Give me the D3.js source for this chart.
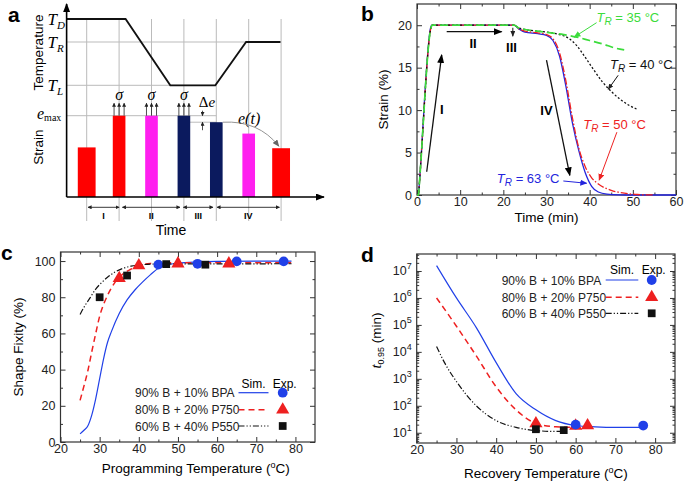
<!DOCTYPE html>
<html>
<head>
<meta charset="utf-8">
<script src="https://cdn.jsdelivr.net/npm/d3@7"></script>
<style>
body{margin:0;background:#fff}
svg{font-family:"Liberation Sans",Arial,Helvetica,sans-serif}
</style>
</head>
<body>
<svg id="fig" width="685" height="485"></svg>
<script>
var FONT = '"Liberation Sans",Arial,Helvetica,sans-serif'
var SERIF = '"Liberation Serif","Times New Roman",serif'

// ---------- panel a (schematic) ----------
var a_tempT = [0.38,2.2,3.58,4.97,5.92,6.98]
var a_tempV = [1,1,0,0,0.653,0.653]
var a_levels = ["D","R","L"]
var a_levelV = [1,0.653,0]
var a_barT = [1,2,3,4,5,6,7]
var a_barV = [0.61,1,1,1,0.92,0.78,0.6]
var a_barW = [0.55,0.39,0.39,0.39,0.39,0.39,0.55]
var a_barC = ["#ff0000","#ff0000","#ff1fef","#0b1a5e","#0b1a5e","#ff1fef","#ff0000"]
var a_phase = ["I","II","III","IV"]
var a_phaseFrom = [1.04,2.1,3.98,5.02]
var a_phaseTo = [2.0,3.88,4.9,6.95]

// ---------- panel b ----------
var b_names = ["63","50","40","35"]
var b_colors = ["#2424dd","#ee2222","#111111","#3cdc3c"]
var b_dash = [null,"7,2,1.5,2","2,2","8,4"]
var b_time = [
  [0,0.35,0.5,3.2,3.4,10,20,22.5,23.5,25,28,30,31.5,33,34.5,36,37.5,39,40.5,42,44,47,50,60],
  [0,0.35,0.5,3.3,3.5,10,20,22.5,23.5,25,28,30,31.5,33,34.5,36,37.5,39,40.5,42,45,48,51,55],
  [0,0.35,0.5,3.3,3.5,10,20,22.5,23.5,25,28,30,33,35,37,39,41,43,45,47,49,51],
  [0,0.35,0.5,3.3,3.5,10,20,22.5,23.5,25,28,31,34,37,40,43,46,48]
]
var b_strain = [
  [0,0,1,19.8,20,20,20,20,19.6,19.2,19.0,18.8,18.2,16.4,12.8,8.5,5.2,2.6,1.0,0.35,0.1,0.02,0,0],
  [0,0,1,19.8,20,20,20,20,19.6,19.3,19.1,18.9,18.4,16.8,13.4,9.1,5.5,3.3,2.0,1.3,0.55,0.22,0.06,0],
  [0,0,1,19.8,20,20,20,20,19.7,19.5,19.3,19.2,18.9,18.5,17.6,16.2,14.7,13.3,12.2,11.3,10.6,10.1],
  [0,0,1,19.8,20,20,20,20,19.7,19.5,19.3,19.1,18.9,18.6,18.2,17.8,17.3,17.1]
]
var b_xticks = [0,10,20,30,40,50,60]
var b_yticks = [0,5,10,15,20]

// ---------- panel c ----------
var c_names = ["90% B + 10% BPA","80% B + 20% P750","60% B + 40% P550"]
var c_simT = [
  [25,26,27,28,29,30,31,32,33,35,37,39,41,43,45,47,50,55,60,79],
  [25,26,27,28,29,30,31,32,34,36,38,40,43,46,79],
  [25,26,27.5,29,30,32,34,36,38,41,45,79]
]
var c_simV = [
  [4.5,6.5,9,15,24,35,46,55,61,71,78.5,84,88.5,92.5,96,97.8,98.8,99.5,99.8,100],
  [23,31,39.5,50,60,69.5,76,81,88.5,93,95.5,97.5,98.7,99,99],
  [70.5,74.5,79.5,84.5,87,91,94,96,97.2,98,98.4,98.5]
]
var c_expT = [[45,55,65,77],[35,40,50,63],[30,37,47,57]]
var c_expV = [[98,98.5,99.8,99.8],[90.5,97.5,98.6,98.6],[80,92,98.3,98]]
var c_xticks = [20,30,40,50,60,70,80]
var c_yticks = [0,20,40,60,80,100]

// ---------- panel d ----------
var d_simT = [
  [25,30,35,40,45,50,55,60,65,70,77],
  [25,30,35,40,45,50,55,60,63],
  [25,27,30,35,40,45,50,55,57]
]
var d_simLog = [
  [7.2,6.0,4.9,3.6,2.45,1.85,1.45,1.27,1.22,1.2,1.2],
  [6.0,4.95,3.85,2.7,1.85,1.35,1.22,1.2,1.2],
  [4.2,3.6,2.9,2.0,1.45,1.2,1.08,1.05,1.05]
]
var d_expT = [[60,77],[50,60,63],[50,57]]
var d_expV = [[20,18.5],[22,18,18.5],[13.5,12.5]]
var d_xticks = [20,30,40,50,60,70,80]
var d_yticks = [1,2,3,4,5,6,7]

var s_colors = ["#2040e8","#ee2020","#111111"]
var s_dash = [null,"6,4","6,2,1.2,2,1.2,2"]
var s_marker = [d3.symbolCircle,d3.symbolTriangle,d3.symbolSquare]
var s_msize = [75,75,60]

var svg = d3.select("#fig")
svg.append("rect").attr("width",685).attr("height",485).attr("fill","#fff")
var defs = svg.append("defs")

function mk(id,color,w,h){
  defs.append("marker").attr("id",id)
    .attr("viewBox","0 0 10 10").attr("refX",9).attr("refY",5)
    .attr("markerWidth",w).attr("markerHeight",h)
    .attr("markerUnits","userSpaceOnUse")
    .attr("preserveAspectRatio","none")
    .attr("orient","auto-start-reverse")
    .append("path").attr("d","M0,0L10,5L0,10z").attr("fill",color)
}
mk("ak","#000",9,7)
mk("aks","#222",4,4)
mk("akm","#222",6,5)
mk("ag","#666",7,6)
mk("agr","#3cdc3c",7,6)
mk("ar","#ee2222",7,6)
mk("ab","#2424dd",7,6)

function label(txt,x,y){
  svg.append("text").attr("x",x).attr("y",y).text(txt)
    .style("font-size","21px").style("font-weight","bold")
}

// generic framed axes
function frameAxes(g,x,y,w,h,o){
  var bx = g.append("g").attr("transform","translate(0,"+h+")")
    .call(d3.axisBottom(x).tickValues(o.xt).tickFormat(d3.format("d")).tickSizeInner(-5).tickSizeOuter(0).tickPadding(2))
  bx.selectAll("text").style("font-size","12.5px").style("font-family",FONT).attr("fill","#222")
  g.append("g").attr("transform","translate(0,"+h+")")
    .call(d3.axisBottom(x).tickValues(o.xm).tickFormat("").tickSize(-2.5))
  g.append("g").call(d3.axisTop(x).tickValues(o.xt).tickFormat("").tickSize(-5))
  g.append("g").call(d3.axisTop(x).tickValues(o.xm).tickFormat("").tickSize(-2.5))
  var ly = g.append("g")
    .call(d3.axisLeft(y).tickValues(o.yt).tickFormat(o.yf).tickSizeInner(-5).tickSizeOuter(0).tickPadding(5))
  ly.selectAll("text").style("font-size","12.5px").style("font-family",FONT).attr("fill","#222")
  g.append("g").call(d3.axisLeft(y).tickValues(o.ym).tickFormat("").tickSize(-2.5))
  g.append("g").attr("transform","translate("+w+",0)")
    .call(d3.axisRight(y).tickValues(o.yt).tickFormat("").tickSize(-5))
  g.append("g").attr("transform","translate("+w+",0)")
    .call(d3.axisRight(y).tickValues(o.ym).tickFormat("").tickSize(-2.5))
  g.selectAll(".domain").remove()
  g.selectAll(".tick line").attr("stroke","#333")
  g.append("rect").attr("width",w).attr("height",h)
    .attr("fill","none").attr("stroke","#333").attr("stroke-width",1.2)
  return ly
}

// ===================== panel a =====================
var ta = d3.scaleLinear().domain([0,8]).range([54.3,313.5])
var yT = d3.scaleLinear().domain([0,1]).range([85.3,19])
var yS = d3.scaleLinear().domain([0,1]).range([197,115.7])
var ga = svg.append("g")

// grid
ga.selectAll(".vg").data(a_barT).enter().append("line")
  .attr("x1",function(d){return ta(d)}).attr("x2",function(d){return ta(d)})
  .attr("y1",yT(1)).attr("y2",221)
  .attr("stroke","#bbb").attr("stroke-width",1)
ga.append("line").attr("x1",ta(0.38)).attr("x2",ta(7)).attr("y1",yT(0.653)).attr("y2",yT(0.653))
  .attr("stroke","#bbb")
ga.append("line").attr("x1",ta(0.38)).attr("x2",ta(5)).attr("y1",yT(0)).attr("y2",yT(0))
  .attr("stroke","#bbb")
ga.append("line").attr("x1",ta(0.38)).attr("x2",ta(5)).attr("y1",yS(1)).attr("y2",yS(1))
  .attr("stroke","#bbb")
ga.append("line").attr("x1",ta(4)).attr("x2",ta(5)).attr("y1",yS(0.92)).attr("y2",yS(0.92))
  .attr("stroke","#bbb")

// temperature profile
ga.append("path")
  .attr("d",d3.line().x(function(d,i){return ta(a_tempT[i])}).y(function(d){return yT(d)})(a_tempV))
  .attr("fill","none").attr("stroke","#111").attr("stroke-width",1.8)

// bars
ga.selectAll(".bar").data(a_barV).enter().append("rect")
  .attr("x",function(d,i){return ta(a_barT[i]-a_barW[i]/2)})
  .attr("width",function(d,i){return ta(a_barW[i])-ta(0)})
  .attr("y",function(d){return yS(d)})
  .attr("height",function(d){return yS(0)-yS(d)})
  .attr("fill",function(d,i){return a_barC[i]});

// stress arrows
[1,2,3].forEach(function(i){
  var c = a_barT[i], hw = a_barW[i]/2;
  [c-hw+0.04,c,c+hw-0.04].forEach(function(xx){
    ga.append("line").attr("x1",ta(xx)).attr("x2",ta(xx))
      .attr("y1",yS(1)).attr("y2",yS(1)-12.5)
      .attr("stroke","#222").attr("stroke-width",0.8).attr("marker-end","url(#aks)")
  })
  ga.append("text").attr("x",ta(c)).attr("y",100).attr("text-anchor","middle")
    .style("font-family",SERIF).style("font-style","italic").style("font-size","16px").text("σ")
})

// delta e
ga.append("line").attr("x1",202.5).attr("x2",202.5).attr("y1",yS(1)-5).attr("y2",yS(1))
  .attr("stroke","#222").attr("stroke-width",0.8).attr("marker-end","url(#aks)")
ga.append("line").attr("x1",202.5).attr("x2",202.5).attr("y1",yS(0.92)+8).attr("y2",yS(0.92))
  .attr("stroke","#222").attr("stroke-width",0.8).attr("marker-end","url(#aks)")
var de = ga.append("text").attr("x",207).attr("y",107).attr("text-anchor","middle")
  .style("font-family",SERIF).style("font-size","15px")
de.append("tspan").text("Δ")
de.append("tspan").style("font-style","italic").text("e")
ga.append("text").attr("x",238).attr("y",123.5)
  .style("font-family",SERIF).style("font-style","italic").style("font-size","16px").text("e(t)")
ga.append("path")
  .attr("d","M"+ta(5.2)+","+yS(0.92)+" Q"+ta(6.3)+","+(yS(0.92)-2)+" "+ta(6.93)+","+(yS(0.6)-2))
  .attr("fill","none").attr("stroke","#888").attr("stroke-width",0.9).attr("marker-end","url(#ag)")

// axes with arrows
ga.append("line").attr("x1",ta(0.38)).attr("x2",ta(0.38)).attr("y1",yS(0)).attr("y2",4)
  .attr("stroke","#000").attr("stroke-width",1.6).attr("marker-end","url(#ak)")
ga.append("line").attr("x1",ta(0.38)).attr("x2",324).attr("y1",yS(0)).attr("y2",yS(0))
  .attr("stroke","#000").attr("stroke-width",1.6).attr("marker-end","url(#ak)")

// level labels
a_levels.forEach(function(L,i){
  var t = ga.append("text").attr("x",47.5).attr("y",yT(a_levelV[i])+6)
    .style("font-family",SERIF).style("font-style","italic").style("font-size","17px")
  t.append("tspan").text("T")
  t.append("tspan").attr("dy",4).style("font-size","11px").text(L)
})
var em = ga.append("text").attr("x",37).attr("y",yS(1)+3)
  .style("font-family",SERIF).style("font-size","16px")
em.append("tspan").style("font-style","italic").text("e")
em.append("tspan").attr("dy",2).style("font-size","10px").text("max")

// phase arrows
a_phase.forEach(function(p,i){
  ga.append("line").attr("x1",ta(a_phaseFrom[i])).attr("x2",ta(a_phaseTo[i]))
    .attr("y1",207.3).attr("y2",207.3)
    .attr("stroke","#222").attr("stroke-width",0.9)
    .attr("marker-start","url(#aks)").attr("marker-end","url(#aks)")
  ga.append("text").attr("x",ta((a_phaseFrom[i]+a_phaseTo[i])/2)).attr("y",218.5)
    .attr("text-anchor","middle").style("font-size","9px").style("font-weight","bold").text(p)
})
ga.append("text").attr("x",171).attr("y",235).attr("text-anchor","middle")
  .style("font-size","14px").text("Time")
ga.append("text").attr("transform","translate(42.5,52.5) rotate(-90)").attr("text-anchor","middle")
  .style("font-size","13.5px").text("Temperature")
ga.append("text").attr("transform","translate(42.5,147) rotate(-90)").attr("text-anchor","middle")
  .style("font-size","13.5px").text("Strain")
label("a",8,22)

// ===================== panel b =====================
var bw = 259, bh = 191
var gb = svg.append("g").attr("transform","translate(417,4)")
var xb = d3.scaleLinear().domain([0,60]).range([0,bw])
var yb = d3.scaleLinear().domain([0,22.5]).range([bh,0])
frameAxes(gb,xb,yb,bw,bh,{xt:b_xticks,xm:[5,15,25,35,45,55],yt:b_yticks,ym:[2.5,7.5,12.5,17.5],yf:d3.format("d")})
var lb = d3.line().curve(d3.curveMonotoneX)
  .x(function(d){return xb(d[0])}).y(function(d){return yb(d[1])})
b_time.forEach(function(ts,i){
  gb.append("path").datum(ts.map(function(t,j){return [t,b_strain[i][j]]}))
    .attr("d",lb).attr("fill","none")
    .attr("stroke",b_colors[i]).attr("stroke-width",i==3?1.7:1.3)
    .attr("stroke-dasharray",b_dash[i])
})
function barrow(t1,s1,t2,s2,mid,col,w){
  gb.append("line").attr("x1",xb(t1)).attr("y1",yb(s1)).attr("x2",xb(t2)).attr("y2",yb(s2))
    .attr("stroke",col).attr("stroke-width",w).attr("marker-end","url(#"+mid+")")
}
barrow(2.25,2.74,5.72,16.5,"ak","#111",1.3)
barrow(6.88,19.24,19.6,19.24,"ak","#111",1.3)
barrow(22.2,19.7,22.2,18.7,"akm","#111",1)
barrow(30.0,15.9,35.4,2.3,"ak","#111",1.3)
barrow(41.6,20.3,36.4,18.6,"agr","#3cdc3c",1)
barrow(46.6,14.1,44.3,12.45,"akm","#111",1)
barrow(46.3,7.4,42.2,1.75,"ar","#ee2222",1)
barrow(33.9,1.65,39.3,1.38,"ab","#2424dd",1);
[["I",5.72,9.6],["II",13.0,17.3],["III",21.9,16.8],["IV",30.0,9.4]].forEach(function(d){
  gb.append("text").attr("x",xb(d[1])).attr("y",yb(d[2])).attr("text-anchor","middle")
    .style("font-size","13px").style("font-weight","bold").text(d[0])
})
function trLabel(t,s,val,col){
  var tx = gb.append("text").attr("x",xb(t)).attr("y",yb(s))
    .style("font-size","13px").attr("fill",col)
  tx.append("tspan").style("font-style","italic").text("T")
  tx.append("tspan").attr("dy",3).style("font-style","italic").style("font-size","10px").text("R")
  tx.append("tspan").attr("dy",-3).text(" = "+val+" °C")
}
trLabel(41.6,20.4,"35","#3cdc3c")
trLabel(44.7,14.8,"40","#111")
trLabel(38.5,7.75,"50","#ee2222")
trLabel(18.5,1.4,"63","#2424dd")
gb.append("text").attr("x",bw/2).attr("y",218).attr("text-anchor","middle")
  .style("font-size","13.5px").text("Time (min)")
gb.append("text").attr("transform","translate(-29,"+(bh/2)+") rotate(-90)").attr("text-anchor","middle")
  .style("font-size","13.5px").text("Strain (%)")
label("b",361,21)

// ===================== panel c =====================
var cw = 254.5, ch = 190
var gc = svg.append("g").attr("transform","translate(60.5,252)")
var xc = d3.scaleLinear().domain([20,85]).range([0,cw])
var yc = d3.scaleLinear().domain([0,105]).range([ch,0])
frameAxes(gc,xc,yc,cw,ch,{xt:c_xticks,xm:[25,35,45,55,65,75],yt:c_yticks,ym:[10,30,50,70,90],yf:d3.format("d")})
var lc = d3.line().curve(d3.curveMonotoneX)
  .x(function(d){return xc(d[0])}).y(function(d){return yc(d[1])})
c_simT.forEach(function(ts,i){
  gc.append("path").datum(ts.map(function(t,j){return [t,c_simV[i][j]]}))
    .attr("d",lc).attr("fill","none").attr("stroke",s_colors[i])
    .attr("stroke-width",i==1?1.5:1.2).attr("stroke-dasharray",s_dash[i])
})
c_expT.forEach(function(ts,i){
  gc.selectAll(".m"+i).data(ts).enter().append("path")
    .attr("transform",function(t,j){return "translate("+xc(t)+","+yc(c_expV[i][j])+")"})
    .attr("d",d3.symbol().type(s_marker[i]).size(s_msize[i])).attr("fill",s_colors[i])
})
function legend(g,x0,lx0,lx1,mx,ys,hy){
  g.append("text").attr("x",(lx0+lx1)/2).attr("y",hy).attr("text-anchor","middle")
    .style("font-size","12px").text("Sim.")
  g.append("text").attr("x",mx+2).attr("y",hy).attr("text-anchor","middle")
    .style("font-size","12px").text("Exp.")
  c_names.forEach(function(n,i){
    g.append("text").attr("x",x0).attr("y",ys[i]+4.5).style("font-size","12px").attr("fill","#222").text(n)
    g.append("line").attr("x1",lx0).attr("x2",lx1).attr("y1",ys[i]).attr("y2",ys[i])
      .attr("stroke",s_colors[i]).attr("stroke-width",i==1?1.5:1.2).attr("stroke-dasharray",s_dash[i])
    g.append("path").attr("transform","translate("+mx+","+ys[i]+")")
      .attr("d",d3.symbol().type(s_marker[i]).size(s_msize[i])).attr("fill",s_colors[i])
  })
}
legend(gc,74.5,178,208,222.2,[140.7,157.8,174],136)
var xtc = gc.append("text").attr("x",cw/2+8).attr("y",221).attr("text-anchor","middle")
  .style("font-size","13.5px").text("Programming Temperature (")
xtc.append("tspan").attr("dy",-5).style("font-size","9px").text("o")
xtc.append("tspan").attr("dy",5).text("C)")
gc.append("text").attr("transform","translate(-38,"+(ch/2)+") rotate(-90)").attr("text-anchor","middle")
  .style("font-size","13.5px").text("Shape Fixity (%)")
label("c",1,260)

// ===================== panel d =====================
var dw = 258.3, dh = 189
var gd = svg.append("g").attr("transform","translate(416.7,254)")
var xd = d3.scaleLinear().domain([20,85]).range([0,dw])
var yd = d3.scaleLog().domain([Math.pow(10,0.62),Math.pow(10,7.63)]).range([dh,0])
var dminor = []
for (var k=0;k<8;k++){ for (var m=2;m<10;m++){ var v=m*Math.pow(10,k); if (v>Math.pow(10,0.62) && v<Math.pow(10,7.63)) dminor.push(v) } }
var ly = frameAxes(gd,xd,yd,dw,dh,{xt:d_xticks,xm:[25,35,45,55,65,75],
  yt:d_yticks.map(function(e){return Math.pow(10,e)}),ym:dminor,yf:function(){return ""}})
ly.selectAll(".tick text").each(function(d){
  var t = d3.select(this)
  t.append("tspan").text("10")
  t.append("tspan").attr("dy",-6).style("font-size","9px").text(Math.round(Math.log10(d)))
})
var ld = d3.line().curve(d3.curveMonotoneX)
  .x(function(d){return xd(d[0])}).y(function(d){return yd(Math.pow(10,d[1]))})
d_simT.forEach(function(ts,i){
  gd.append("path").datum(ts.map(function(t,j){return [t,d_simLog[i][j]]}))
    .attr("d",ld).attr("fill","none").attr("stroke",s_colors[i])
    .attr("stroke-width",i==1?1.5:1.2).attr("stroke-dasharray",s_dash[i])
});
[1,2,0].forEach(function(i){
  gd.selectAll(".m"+i).data(d_expT[i]).enter().append("path")
    .attr("transform",function(t,j){return "translate("+xd(t)+","+yd(d_expV[i][j])+")"})
    .attr("d",d3.symbol().type(s_marker[i]).size(s_msize[i])).attr("fill",s_colors[i])
})
legend(gd,85,189,221.6,235,[26,43.3,59.3],20)
var xtd = gd.append("text").attr("x",dw/2).attr("y",224).attr("text-anchor","middle")
  .style("font-size","13.5px").text("Recovery Temperature (")
xtd.append("tspan").attr("dy",-5).style("font-size","9px").text("o")
xtd.append("tspan").attr("dy",5).text("C)")
var ytd = gd.append("text").attr("transform","translate(-36,"+(dh/2-8)+") rotate(-90)").attr("text-anchor","middle")
  .style("font-size","13.5px")
ytd.append("tspan").style("font-style","italic").style("font-family",SERIF).style("font-size","15px").text("t")
ytd.append("tspan").attr("dy",3).style("font-size","9px").text("0.95")
ytd.append("tspan").attr("dy",-3).text(" (min)")
label("d",361,262)
</script>
</body>
</html>
